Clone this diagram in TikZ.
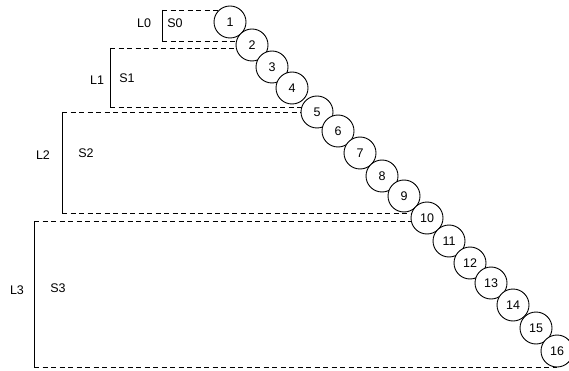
\documentclass[tikz,border=0pt]{standalone}
\usepackage{fontspec}
\setmainfont{Liberation Sans}
\usetikzlibrary{backgrounds}
\begin{document}
\begin{tikzpicture}[x=1pt,y=-1pt,
  ball/.style={circle,draw,line width=0.9pt,fill=white,minimum size=32pt,inner sep=0pt,font=\fontsize{12.5}{14}\selectfont},
  lab/.style={inner sep=0pt,font=\fontsize{12.5}{14}\selectfont},
  dashline/.style={line width=0.9pt,dash pattern=on 5pt off 3.5pt},
  solidline/.style={line width=0.9pt}]
\useasboundingbox (0,0) rectangle (569,371);
% circles
\node[ball] (c1) at (230,22) {1};
\node[ball] (c2) at (252,45) {2};
\node[ball] (c3) at (272,67) {3};
\node[ball] (c4) at (292,88) {4};
\node[ball] (c5) at (317,112) {5};
\node[ball] (c6) at (338,131) {6};
\node[ball] (c7) at (360,153) {7};
\node[ball] (c8) at (382,176) {8};
\node[ball] (c9) at (404,196) {9};
\node[ball] (c10) at (427,218) {10};
\node[ball] (c11) at (449,241) {11};
\node[ball] (c12) at (470,263) {12};
\node[ball] (c13) at (491,283) {13};
\node[ball] (c14) at (513,305) {14};
\node[ball] (c15) at (536,328) {15};
\node[ball] (c16) at (557,351) {16};
% level corners
\coordinate (t0) at (162,10);  \coordinate (b0) at (162,41);
\coordinate (t1) at (110,48);  \coordinate (b1) at (110,107);
\coordinate (t2) at (62,112);  \coordinate (b2) at (62,213);
\coordinate (t3) at (34,221);  \coordinate (b3) at (34,367);
% labels
\node[lab] (L0) at (144,23) {L0};
\node[lab] (S0) at (175,23) {S0};
\node[lab] (L1) at (97,80) {L1};
\node[lab] (S1) at (127,78) {S1};
\node[lab] (L2) at (43,155) {L2};
\node[lab] (S2) at (86,153) {S2};
\node[lab] (L3) at (17,290) {L3};
\node[lab] (S3) at (58,288) {S3};
\begin{scope}[on background layer]
  \draw[solidline] (t0) -- (b0);
  \draw[solidline] (t1) -- (b1);
  \draw[solidline] (t2) -- (b2);
  \draw[solidline] (t3) -- (b3);
  \draw[dashline] (t0) -- (t0 -| c1);
  \draw[dashline] (b0) -- (b0 -| c2);
  \draw[dashline] (t1) -- (t1 -| c2);
  \draw[dashline] (b1) -- (b1 -| c5);
  \draw[dashline] (t2) -- (t2 -| c5);
  \draw[dashline] (b2) -- (b2 -| c10);
  \draw[dashline] (t3) -- (t3 -| c10);
  \draw[dashline] (b3) -- (b3 -| c16);
\end{scope}
\end{tikzpicture}
\end{document}
